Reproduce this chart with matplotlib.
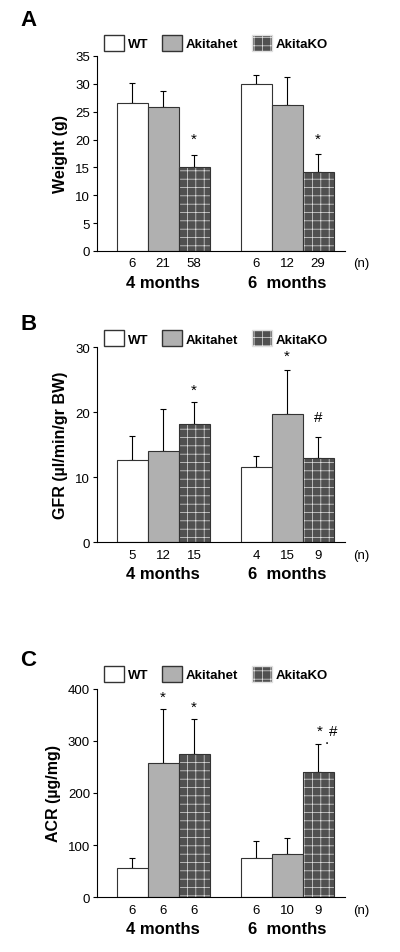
import matplotlib.pyplot as plt
from matplotlib.patches import Patch

plt.rcParams['font.family'] = ['Liberation Sans', 'DejaVu Sans']
plt.rcParams['hatch.linewidth'] = 0.5

# --- data ---
groups = ["4 months", "6  months"]
series = ["WT", "Akitahet", "AkitaKO"]

weight_mean = [26.5, 25.8, 15.1, 30.0, 26.2, 14.2]
weight_top = [30.2, 28.7, 17.2, 31.5, 31.3, 17.4]
weight_n = ["6", "21", "58", "6", "12", "29"]

gfr_mean = [12.6, 14.0, 18.1, 11.5, 19.7, 13.0]
gfr_top = [16.3, 20.4, 21.6, 13.2, 26.4, 16.2]
gfr_n = ["5", "12", "15", "4", "15", "9"]

acr_mean = [55, 258, 275, 75, 83, 240]
acr_top = [75, 362, 343, 107, 113, 294]
acr_n = ["6", "6", "6", "6", "10", "9"]

# significance marks: (bar position offset, y value, text)
weight_sig = [(2, 0, 20.1, "*"), (5, 0, 20.1, "*")]
gfr_sig = [(2, 0, 23.5, "*"), (4, 0, 28.7, "*"), (5, 0, 19.2, "#")]
acr_sig = [(1, 0, 385, "*"), (2, 0, 365, "*"),
           (5, 0.05, 319, "*"), (5, 0.5, 319, "#"), (5, 0.28, 303, ".")]

positions = [0, 1, 2, 4, 5, 6]
fills = ["white", "#b0b0b0", "#505050"]


def draw_panel(ax, mean, top, nlab, sig, ylim, yticks, ylabel, leg_y):
    for i, (x, m) in enumerate(zip(positions, mean)):
        k = i % 3
        if k == 2:
            ax.bar(x, m, width=1, color=fills[k], edgecolor="#e0e0e0",
                   hatch="++", linewidth=0, zorder=2)
            ax.bar(x, m, width=1, color="none", edgecolor="#333333",
                   linewidth=0.8, zorder=3)
        else:
            ax.bar(x, m, width=1, color=fills[k], edgecolor="#333333",
                   linewidth=0.8, zorder=2)
    err = [t - m for t, m in zip(top, mean)]
    ax.errorbar(positions, mean, yerr=[[0] * 6, err], fmt="none",
                ecolor="black", elinewidth=0.8, capsize=2.5, capthick=0.8,
                zorder=1)
    for idx, dx, yv, s in sig:
        ax.text(positions[idx] + dx, yv, s, ha="center", va="center",
                fontsize=11)

    ax.set_xlim(-1.13, 6.87)
    ax.set_ylim(*ylim)
    ax.set_yticks(yticks)
    ax.tick_params(axis="y", labelsize=9.5, length=3, width=0.8,
                   direction="out", pad=2)
    ax.set_xticks([])
    for sp in ["top", "right"]:
        ax.spines[sp].set_visible(False)
    ax.spines["left"].set_linewidth(0.8)
    ax.spines["bottom"].set_linewidth(0.8)
    ax.set_ylabel(ylabel, fontsize=11.5, fontweight="bold", labelpad=5)

    tr = ax.get_xaxis_transform()
    for x, s in zip(positions, nlab):
        ax.annotate(s, (x, 0), xycoords=tr, xytext=(0, -9),
                    textcoords="offset points", ha="center", va="center",
                    fontsize=9.5)
    ax.annotate("(n)", (7.4, 0), xycoords=tr, xytext=(0, -9),
                textcoords="offset points", ha="center", va="center",
                fontsize=9.5, annotation_clip=False)
    for x, g in zip([1, 5], groups):
        ax.annotate(g, (x, 0), xycoords=tr, xytext=(0, -22.5),
                    textcoords="offset points", ha="center", va="center",
                    fontsize=12, fontweight="bold")

    handles = [Patch(facecolor=fills[0], edgecolor="#333333"),
               Patch(facecolor=fills[1], edgecolor="#333333"),
               Patch(facecolor=fills[2], edgecolor="#e0e0e0", hatch="++")]
    ax.legend(handles, series, ncol=3, loc="lower left",
              bbox_to_anchor=(0.028, leg_y), frameon=False,
              prop={"weight": "bold", "size": 9.5}, handlelength=1.5,
              handleheight=1.45, handletextpad=0.3, columnspacing=1.05,
              borderpad=0, borderaxespad=0)


fig = plt.figure(figsize=(4.0, 9.53), dpi=100)
axA = fig.add_axes([0.2425, 0.7356, 0.62, 0.2046])
axB = fig.add_axes([0.2425, 0.4302, 0.62, 0.2046])
axC = fig.add_axes([0.2425, 0.0577, 0.62, 0.2183])

draw_panel(axA, weight_mean, weight_top, weight_n, weight_sig,
           (0, 35), range(0, 36, 5), "Weight (g)", 1.026)
draw_panel(axB, gfr_mean, gfr_top, gfr_n, gfr_sig,
           (0, 30), [0, 10, 20, 30], "GFR (\u00b5l/min/gr BW)", 1.005)
draw_panel(axC, acr_mean, acr_top, acr_n, acr_sig,
           (0, 400), [0, 100, 200, 300, 400], "ACR (\u00b5g/mg)", 1.034)

for letter, ypix in [("A", 20), ("B", 325), ("C", 661)]:
    fig.text(0.05, 1 - ypix / 953, letter, fontsize=16, fontweight="bold",
             ha="left", va="center")

fig.savefig("out.png", dpi=100)
